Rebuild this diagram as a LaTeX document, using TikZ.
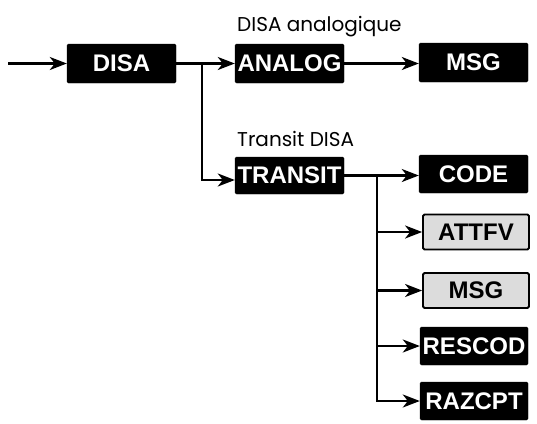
\documentclass[tikz,border=0pt]{standalone}
\usepackage{fontspec}
\setmainfont{Poppins}
\newfontfamily\labfont{Liberation Sans}
\usetikzlibrary{arrows.meta}
\definecolor{boxgrey}{HTML}{DCDCDC}
\tikzset{
  blackbox/.style={rectangle, fill=black, draw=black, rounded corners=1.5pt, inner sep=0pt,
    minimum width=109pt, minimum height=39pt, text=white,
    font=\labfont\bfseries\fontsize{24}{24}\selectfont},
  greybox/.style={rectangle, fill=boxgrey, draw=black, line width=1.8pt, rounded corners=1.5pt, inner sep=0pt,
    minimum width=106pt, minimum height=35pt, text=black,
    font=\labfont\bfseries\fontsize{24}{24}\selectfont},
  caption/.style={anchor=base west, inner sep=0pt, font=\fontsize{20}{20}\selectfont},
  arr/.style={line width=2.2pt, -{Stealth[length=17pt, width=13pt, inset=5pt]}},
}
\begin{document}
\begin{tikzpicture}[x=1pt, y=-1pt]
\useasboundingbox (0,0) rectangle (537,423);
\node[blackbox] (disa) at (121.5,63.5) {DISA};
\node[blackbox] (analog) at (289.5,63.5) {ANALOG};
\node[blackbox] (msga) at (473.5,62.5) {MSG};
\node[blackbox, minimum height=37pt] (transit) at (289.5,175.5) {TRANSIT};
\node[blackbox, minimum height=38pt] (code) at (473.5,174) {CODE};
\node[greybox] (attfv) at (476,232) {ATTFV};
\node[greybox] (msgb) at (476,290.5) {MSG};
\node[blackbox, minimum width=108pt, minimum height=38pt] (rescod) at (474,346) {RESCOD};
\node[blackbox, minimum width=108pt, minimum height=38pt] (razcpt) at (474,401) {RAZCPT};
\node[caption] (capa) at (237,31) {DISA analogique};
\node[caption] (capt) at (237,146) {Transit DISA};
\coordinate (in) at (8,63.5);
\coordinate (ja) at (202,63.5);
\coordinate (jb) at (377,175.5);
\draw[arr] (in) -- (disa.west);
\draw[arr] (disa.east) -- (analog.west);
\draw[arr] (ja) |- ([yshift=-4.5pt]transit.west);
\draw[arr] (analog.east) -- (msga.west |- analog.east);
\draw[arr] (transit.east) -- (code.west |- transit.east);
\draw[arr] (jb) |- (attfv.west);
\draw[arr] (jb) |- (msgb.west);
\draw[arr] (jb) |- (rescod.west);
\draw[arr] (jb) |- (razcpt.west);
\end{tikzpicture}
\end{document}
